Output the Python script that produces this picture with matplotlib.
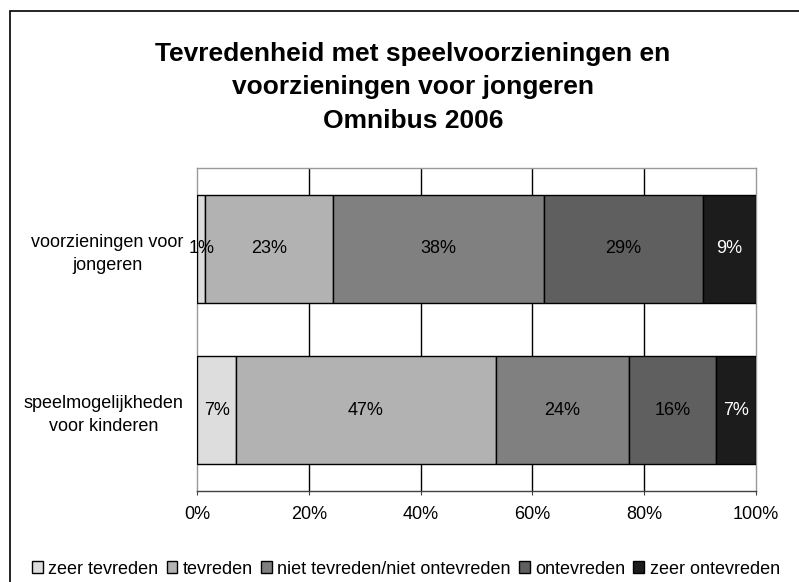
import matplotlib.pyplot as plt
import matplotlib.patches as mpatches
import numpy as np

plt.rcParams['font.family'] = ['Liberation Sans', 'DejaVu Sans']

# data
categories = ['speelmogelijkheden\nvoor kinderen', 'voorzieningen voor\njongeren']
series = ['zeer tevreden', 'tevreden', 'niet tevreden/niet ontevreden',
          'ontevreden', 'zeer ontevreden']
# rows follow categories (bottom bar first)
values = np.array([
    [6.9, 46.6, 23.8, 15.6, 7.1],
    [1.4, 22.9, 37.7, 28.6, 9.4],
])
colors = ['#dddddd', '#b2b2b2', '#808080', '#5f5f5f', '#1c1c1c']
text_colors = ['black', 'black', 'black', 'black', 'white']
xticks = [0, 20, 40, 60, 80, 100]

fig = plt.figure(figsize=(7.99, 5.82), dpi=100)
ax = fig.add_axes([0.247, 0.1564, 0.699, 0.5549])

y = np.arange(len(categories))
left = np.zeros(len(categories))
for i, name in enumerate(series):
    bars = ax.barh(y, values[:, i], left=left, height=0.67, color=colors[i],
                   edgecolor='black', linewidth=1.0, label=name, zorder=3)
    for j, b in enumerate(bars):
        ax.text(left[j] + values[j, i] / 2, y[j], '%.0f%%' % values[j, i],
                ha='center', va='center', fontsize=13, color=text_colors[i],
                zorder=4)
    left += values[:, i]

ax.set_xlim(0, 100)
ax.set_ylim(-0.5, 1.5)
ax.set_xticks(xticks)
ax.set_xticklabels(['%d%%' % t for t in xticks], fontsize=13)
ax.set_yticks(y)
ax.set_yticklabels(categories, fontsize=13)
for lbl in ax.get_yticklabels():
    lbl.set_multialignment('center')
    lbl.set_linespacing(1.45)
ax.tick_params(axis='y', length=0, pad=10)
ax.tick_params(axis='x', length=3, direction='out', color='#404040', pad=8)

# vertical gridlines
for t in xticks[1:-1]:
    ax.axvline(t, color='black', linewidth=1.0, zorder=1)

for s in ['left', 'top', 'right']:
    ax.spines[s].set_color('#999999')
    ax.spines[s].set_linewidth(1.0)
ax.spines['bottom'].set_color('#404040')
ax.spines['bottom'].set_linewidth(1.0)

# title
fig.text(0.517, 1 - 87 / 582,
         'Tevredenheid met speelvoorzieningen en\nvoorzieningen voor jongeren\nOmnibus 2006',
         ha='center', va='center', fontsize=19, fontweight='bold', linespacing=1.5)

# legend
fig.legend(loc='center', bbox_to_anchor=(0.508, 1 - 569 / 582), ncol=5,
           frameon=False, fontsize=13, handlelength=0.6, handleheight=0.6,
           handletextpad=0.3, columnspacing=0.45, borderpad=0)

# outer chart frame (cropped at right and bottom)
fig.patches.append(mpatches.Rectangle((10 / 799, -0.1), 1.2, 1 - 10.5 / 582 + 0.1,
                                      transform=fig.transFigure, fill=False,
                                      edgecolor='black', linewidth=1.2))

plt.savefig('out.png', dpi=100)
